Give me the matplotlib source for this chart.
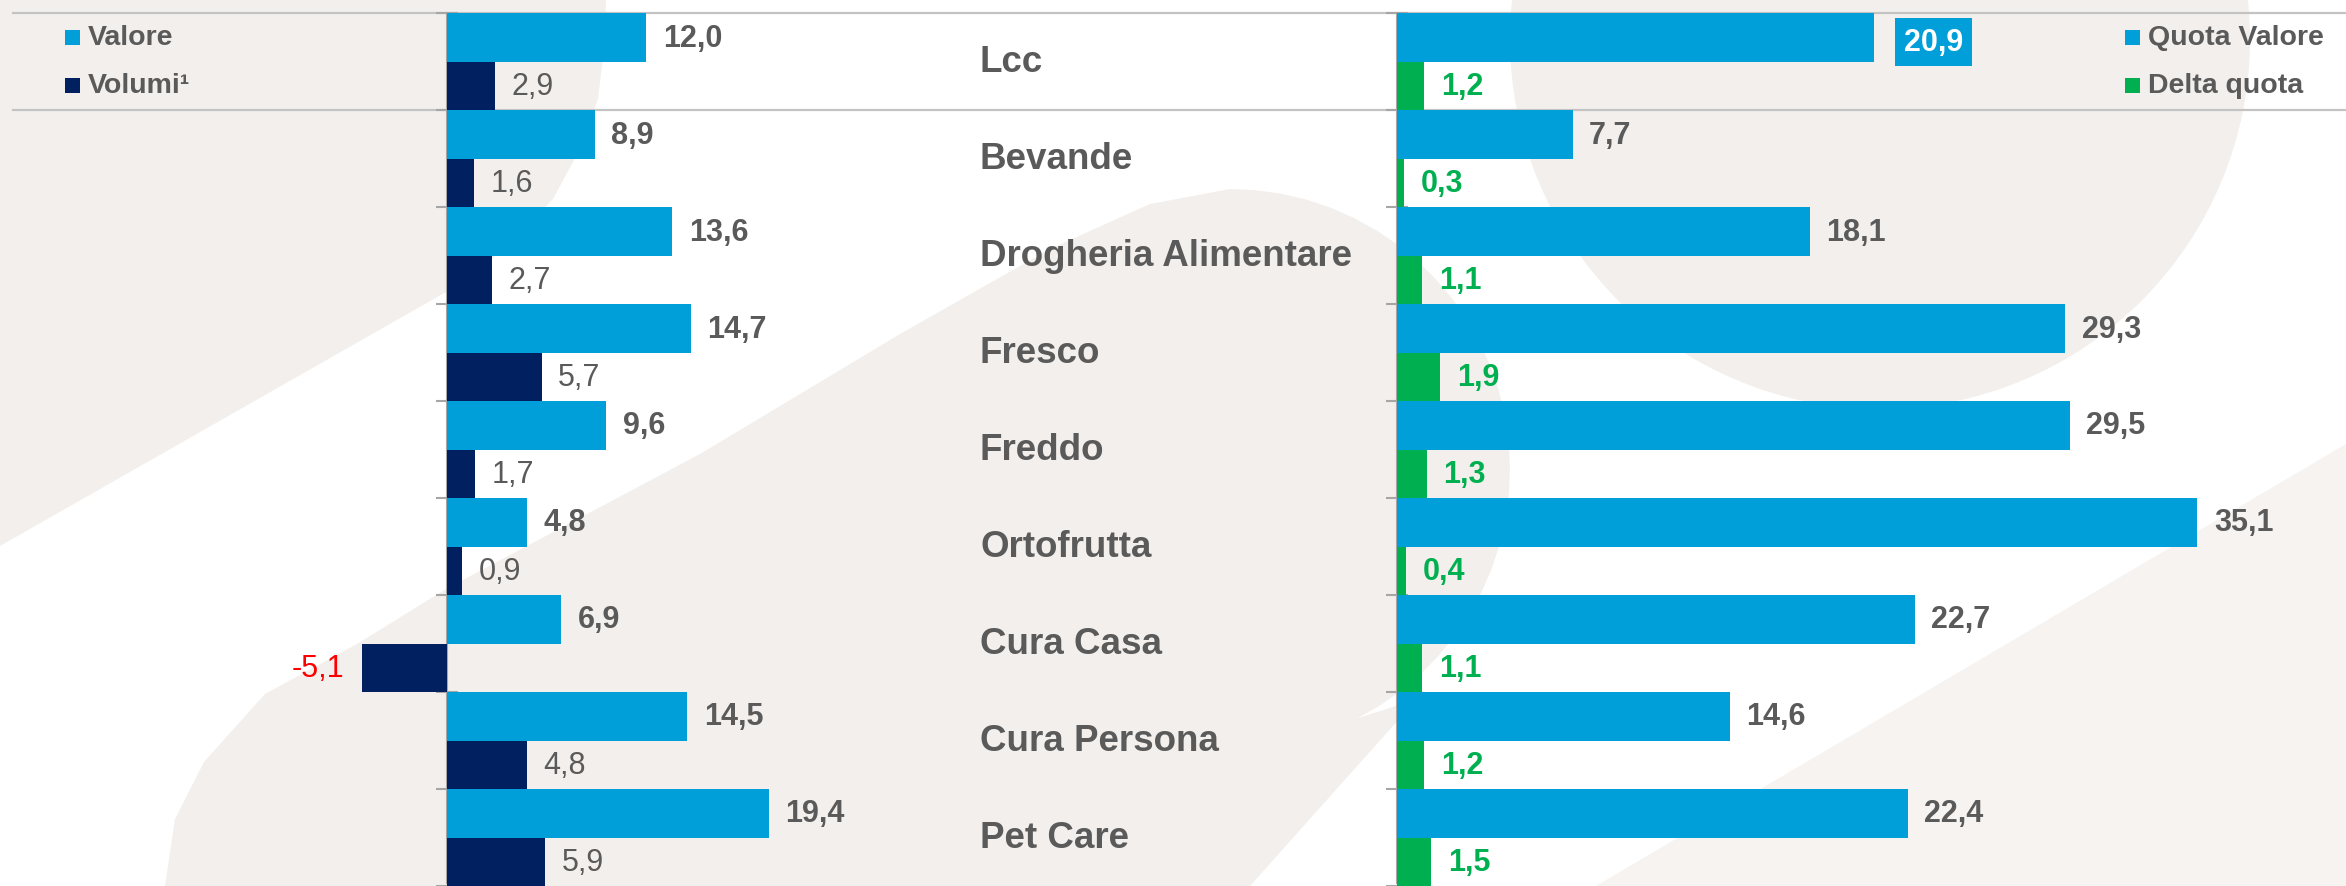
import numpy as np
import matplotlib
matplotlib.use("Agg")
import matplotlib.pyplot as plt
from matplotlib.patches import Polygon, Circle, Rectangle
from matplotlib.transforms import blended_transform_factory

plt.rcParams['font.family'] = ['Liberation Sans', 'DejaVu Sans']

# dati
categorie = ['Lcc', 'Bevande', 'Drogheria Alimentare', 'Fresco', 'Freddo',
             'Ortofrutta', 'Cura Casa', 'Cura Persona', 'Pet Care']
valore = [12.0, 8.9, 13.6, 14.7, 9.6, 4.8, 6.9, 14.5, 19.4]
volumi = [2.9, 1.6, 2.7, 5.7, 1.7, 0.9, -5.1, 4.8, 5.9]
quota_valore = [20.9, 7.7, 18.1, 29.3, 29.5, 35.1, 22.7, 14.6, 22.4]
delta_quota = [1.2, 0.3, 1.1, 1.9, 1.3, 0.4, 1.1, 1.2, 1.5]

BLU = '#009FDA'
NAVY = '#002060'
VERDE = '#00B050'
GRIGIO = '#5A5A5A'
BEIGE = '#F3EFEC'
LINEA = '#C3C3C3'

W, H = 2346, 887
fig = plt.figure(figsize=(W / 100, H / 100), dpi=100)

# sfondo decorativo (coordinate in pixel)
bg = fig.add_axes([0, 0, 1, 1], zorder=0)
bg.set_xlim(0, W)
bg.set_ylim(H, 0)
bg.axis('off')
bg.add_patch(Polygon([(0, 0), (606, 0), (604, 50), (598, 100), (580, 150), (553, 200),
                      (505, 250), (446, 293), (0, 547)], color=BEIGE, lw=0))
t = np.linspace(np.pi * 1.5, np.pi * 2.35, 30)
arco = [(1230 + 280 * np.cos(a), 470 + 280 * np.sin(a)) for a in t]
bg.add_patch(Polygon([(165, 887), (175, 820), (204, 763), (265, 695), (357, 645),
                      (446, 590), (700, 455), (900, 335), (1050, 250), (1150, 205)]
                     + arco + [(1417, 700), (1250, 887)], color=BEIGE, lw=0))
bg.add_patch(Circle((1880, 40), 370, color=BEIGE, lw=0))
bg.add_patch(Polygon([(2346, 445), (1596, 887), (2346, 887)], color='#F6F3F1', lw=0))

n = len(categorie)
y0 = 14.5 / 97.3
ylim = (H / 97.3 - y0, -y0)


def fmt(v):
    return f"{v:.1f}".replace('.', ',')


def setup(ax):
    ax.set_facecolor('none')
    ax.set_ylim(*ylim)
    for s in ['top', 'right', 'bottom']:
        ax.spines[s].set_visible(False)
    ax.spines['left'].set_position(('data', 0))
    ax.spines['left'].set_bounds(0, ylim[0])
    ax.spines['left'].set_color('#A6A6A6')
    ax.spines['left'].set_linewidth(1.5)
    ax.set_yticks(np.arange(n + 1))
    ax.set_yticklabels([])
    ax.tick_params(axis='y', direction='inout', length=16, width=1.5, color='#A6A6A6')
    ax.set_xticks([])


# pannello sinistro: Valore / Volumi
px_l = 16.58
axL = fig.add_axes([0, 0, 930 / W, 1], zorder=2)
axL.set_xlim(-447 / px_l, (930 - 447) / px_l)
setup(axL)
yv = np.arange(n) + 0.25
yq = np.arange(n) + 0.75
axL.barh(yv, valore, height=0.5, color=BLU, zorder=3)
axL.barh(yq, volumi, height=0.5, color=NAVY, zorder=3)
for y, v in zip(yv, valore):
    axL.annotate(fmt(v), (v, y), xytext=(12, 0), textcoords='offset points',
                 ha='left', va='center', fontsize=22, fontweight='bold', color=GRIGIO)
for y, v in zip(yq, volumi):
    if v < 0:
        axL.annotate(fmt(v), (v, y), xytext=(-13, 0), textcoords='offset points',
                     ha='right', va='center', fontsize=22, color='#FF0000')
    else:
        axL.annotate(fmt(v), (v, y), xytext=(12, 0), textcoords='offset points',
                     ha='left', va='center', fontsize=22, color=GRIGIO)

# pannello destro: Quota Valore / Delta quota
px_r = 22.8
axR = fig.add_axes([1397 / W, 0, (W - 1397) / W, 1], zorder=2)
axR.set_xlim(0, (W - 1397) / px_r)
setup(axR)
axR.barh(yv, quota_valore, height=0.5, color=BLU, zorder=3)
axR.barh(yq, delta_quota, height=0.5, color=VERDE, zorder=3)
for i, (y, v) in enumerate(zip(yv, quota_valore)):
    if i == 0:
        axR.annotate(fmt(v), (v, y), xytext=(22, -3), textcoords='offset points',
                     ha='left', va='center', fontsize=22, fontweight='bold', color='white',
                     bbox=dict(boxstyle='square,pad=0.3', fc=BLU, ec='none'))
    else:
        axR.annotate(fmt(v), (v, y), xytext=(12, 0), textcoords='offset points',
                     ha='left', va='center', fontsize=22, fontweight='bold', color=GRIGIO)
for y, v in zip(yq, delta_quota):
    axR.annotate(fmt(v), (v, y), xytext=(12, 0), textcoords='offset points',
                 ha='left', va='center', fontsize=22, fontweight='bold', color=VERDE)

# linee orizzontali e categorie
tr = blended_transform_factory(fig.transFigure, axL.transData)
for yl in [0, 1]:
    axL.plot([13 / W, 1], [yl, yl], transform=tr, color=LINEA, lw=1.6,
             clip_on=False, zorder=1)
for i, c in enumerate(categorie):
    axL.text(980 / W, i + 0.5, c, transform=tr, ha='left', va='center',
             fontsize=26.5, fontweight='bold', color=GRIGIO)

# legende
def legenda(x, items):
    for (lab, col), yy in zip(items, [38, 86]):
        bg.add_patch(Rectangle((x, yy - 7.5), 15, 15, color=col, lw=0))
        bg.text(x + 23, yy, lab, ha='left', va='center', fontsize=20.5,
                fontweight='bold', color=GRIGIO)


legenda(65, [('Valore', BLU), ('Volumi¹', NAVY)])
legenda(2125, [('Quota Valore', BLU), ('Delta quota', VERDE)])

fig.savefig('out.png', dpi=100)
